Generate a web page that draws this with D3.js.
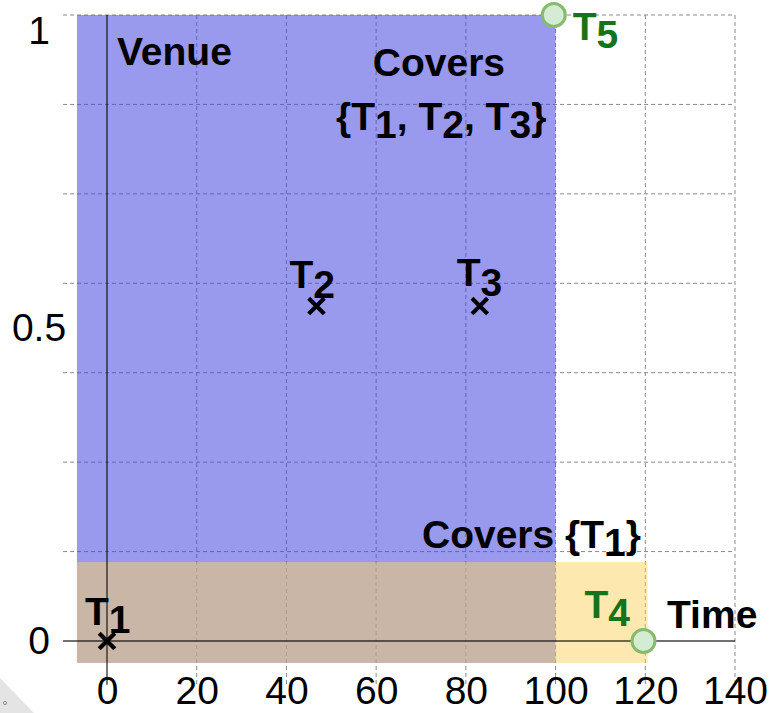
<!DOCTYPE html>
<html>
<head>
<meta charset="utf-8">
<script src="https://cdn.jsdelivr.net/npm/d3@7/dist/d3.min.js"></script>
<style>
  html, body { margin: 0; padding: 0; background: #fff; }
  svg { display: block; }
  text { font-family: "Liberation Sans", Arial, Helvetica, sans-serif; }
</style>
</head>
<body>
<svg id="chart" width="769" height="713"></svg>
<script>
// ---- data ----
const xTicks = [0, 20, 40, 60, 80, 100, 120, 140];
const yTicks = [0, 0.5, 1];
const xGrid = [20, 40, 60, 80, 100, 120, 140];
const yGrid = [1/7, 2/7, 3/7, 4/7, 5/7, 6/7, 1];

const pointNames = ["T1", "T2", "T3", "T4", "T5"];
const pointX = [0, 46.7, 83.1, 119.6, 99.6];
const pointY = [0, 0.535, 0.535, 0, 1];
const pointKind = ["cross", "cross", "cross", "circle", "circle"];

const regionNames = ["Venue", "Covers {T1}"];
const regionX0 = [-6.7, -6.7];
const regionX1 = [100, 120.5];
const regionY0 = [-0.035, -0.035];
const regionY1 = [1, 0.126];

// ---- layout ----
const svg = d3.select("#chart");
const x = d3.scaleLinear().domain([0, 140]).range([107, 735]);
const y = d3.scaleLinear().domain([0, 1]).range([641, 15]);
const xMinExt = -9.8, yMinExt = -0.07;
const FS = 39;

// grid
const grid = svg.append("g");
grid.selectAll("line.v").data(xGrid).join("line")
  .attr("x1", d => x(d)).attr("x2", d => x(d))
  .attr("y1", y(1)).attr("y2", y(yMinExt))
  .attr("stroke", "#8a8a8a").attr("stroke-width", 1).attr("stroke-dasharray", "4,3");
grid.selectAll("line.h").data(yGrid).join("line")
  .attr("x1", x(xMinExt)).attr("x2", x(140))
  .attr("y1", d => y(d)).attr("y2", d => y(d))
  .attr("stroke", "#8a8a8a").attr("stroke-width", 1).attr("stroke-dasharray", "4,3");

// regions
const regionFill = ["rgba(70,70,222,0.55)", "rgba(251,211,97,0.5)"];
svg.append("g").selectAll("rect").data(regionNames).join("rect")
  .attr("x", (d, i) => x(regionX0[i]))
  .attr("y", (d, i) => y(regionY1[i]))
  .attr("width", (d, i) => x(regionX1[i]) - x(regionX0[i]))
  .attr("height", (d, i) => y(regionY0[i]) - y(regionY1[i]))
  .attr("fill", (d, i) => regionFill[i]);

// axis lines (drawn over the regions, slightly translucent)
svg.append("line").attr("x1", x(xMinExt)).attr("x2", x(140)).attr("y1", y(0)).attr("y2", y(0))
  .attr("stroke", "#000").attr("stroke-opacity", 0.75).attr("stroke-width", 1.4);
svg.append("line").attr("x1", x(0)).attr("x2", x(0)).attr("y1", y(1)).attr("y2", y(yMinExt))
  .attr("stroke", "#000").attr("stroke-opacity", 0.75).attr("stroke-width", 1.4);

// axes (tick labels)
const xAxis = d3.axisBottom(x).tickValues(xTicks).tickSize(0).tickPadding(35).tickFormat(d3.format("d"));
const gx = svg.append("g").attr("transform", `translate(0,${y(0)})`).call(xAxis);
gx.select(".domain").remove();
gx.selectAll("text").attr("font-size", FS).attr("fill", "#000")
  .style("font-family", '"Liberation Sans", Arial, sans-serif');

const yAxis = d3.axisLeft(y).tickValues(yTicks).tickSize(0).tickFormat(d => d === 0.5 ? "0.5" : d3.format("d")(d));
const gy = svg.append("g").attr("transform", `translate(${x(0)},0)`).call(yAxis);
gy.select(".domain").remove();
gy.selectAll("text").attr("font-size", FS).attr("fill", "#000")
  .attr("text-anchor", "middle").attr("x", 39 - x(0))
  .attr("y", d => d === 1 ? 16 : 0)
  .style("font-family", '"Liberation Sans", Arial, sans-serif');

// helper: bold label with subscript digits
function subLabel(g, px, py, parts, opts) {
  const t = g.append("text").attr("x", px).attr("y", py)
    .attr("font-size", FS).attr("font-weight", "bold")
    .attr("fill", opts.fill || "#000")
    .attr("text-anchor", opts.anchor || "start");
  const sdy = opts.subDy || 8;
  parts.forEach(p => {
    if (p.sub) {
      t.append("tspan").attr("dy", sdy).text(p.t);
    } else {
      t.append("tspan").attr("dy", p.after ? -sdy : 0).text(p.t);
    }
  });
  return t;
}
function labelParts(s) {
  const out = [];
  let buf = "", prevSub = false;
  for (let i = 0; i < s.length; i++) {
    const c = s[i];
    if (/[0-9]/.test(c) && s[i - 1] === "T") {
      if (buf) out.push({t: buf, after: prevSub});
      out.push({t: c, sub: true});
      buf = ""; prevSub = true;
    } else {
      buf += c;
    }
  }
  if (buf) out.push({t: buf, after: prevSub});
  return out;
}

const ann = svg.append("g");
// region labels
ann.append("text").attr("x", 117).attr("y", 65).attr("font-size", FS).attr("font-weight", "bold")
  .text(regionNames[0]);
ann.append("text").attr("x", x(74)).attr("y", 76).attr("font-size", FS).attr("font-weight", "bold")
  .attr("text-anchor", "middle").text("Covers");
subLabel(ann, x(74.5), 130, labelParts("{" + pointNames.slice(0, 3).join(", ") + "}"), {anchor: "middle"});
subLabel(ann, 422, 548, labelParts(regionNames[1]), {});
ann.append("text").attr("x", 667).attr("y", 628).attr("font-size", FS).attr("font-weight", "bold")
  .text("Time");

// points
const pts = svg.append("g");
pointNames.forEach((n, i) => {
  const cx = x(pointX[i]), cy = y(pointY[i]);
  if (pointKind[i] === "cross") {
    const s = 7.8;
    pts.append("path").attr("d", `M${cx - s},${cy - s}L${cx + s},${cy + s}M${cx - s},${cy + s}L${cx + s},${cy - s}`)
      .attr("stroke", "#000").attr("stroke-width", 4.2).attr("fill", "none");
  } else {
    pts.append("circle").attr("cx", cx).attr("cy", cy).attr("r", 11.5)
      .attr("fill", "#d4ebd4").attr("stroke", "#88ba6c").attr("stroke-width", 3);
  }
});

// point labels
const green = "#177317";
const lab = [
  {dx: -22, dy: -16},   // T1
  {dx: -27, dy: -18},   // T2
  {dx: -23, dy: -20},   // T3
  {dx: -59, dy: -23},   // T4
  {dx: 19,  dy: 25}     // T5
];
const labFill = ["#000", "#000", "#000", green, green];
pointNames.forEach((n, i) => {
  const cx = x(pointX[i]), cy = y(pointY[i]);
  subLabel(ann, cx + lab[i].dx, cy + lab[i].dy, labelParts(n), {fill: labFill[i], subDy: i === 1 || i === 2 ? 10 : 8});
});

// corner artifact
svg.append("path").attr("d", "M0,678L34,713L0,713Z").attr("fill", "#e4e4e4");
svg.append("circle").attr("cx", 5).attr("cy", 703).attr("r", 1.6).attr("fill", "none")
  .attr("stroke", "#777").attr("stroke-width", 0.8);
</script>
</body>
</html>
